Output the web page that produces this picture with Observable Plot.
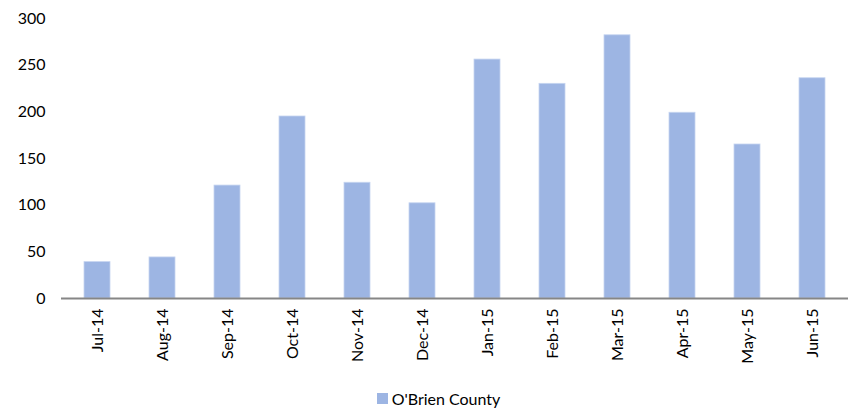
<!DOCTYPE html>
<html>
<head>
<meta charset="utf-8">
<script src="https://cdn.jsdelivr.net/npm/d3@7"></script>
<script src="https://cdn.jsdelivr.net/npm/@observablehq/plot@0.6"></script>
<style>
  html, body { margin: 0; padding: 0; background: #fff; }
  body { width: 853px; height: 411px; overflow: hidden; font-family: Lato, "Open Sans", sans-serif; }
  #legend { display: flex; align-items: center; justify-content: center; gap: 4px; font-size: 16px; color: #000; margin-top: 9px; padding-left: 24px; }
  #legend .sw { width: 11px; height: 11px; background: #9db5e3; display: inline-block; }
</style>
</head>
<body>
<div id="chart"></div>
<div id="legend"><span class="sw"></span><span>O'Brien County</span></div>
<script>
const months = ["Jul-14","Aug-14","Sep-14","Oct-14","Nov-14","Dec-14","Jan-15","Feb-15","Mar-15","Apr-15","May-15","Jun-15"];
const values = [39, 44, 121, 195, 124, 102, 256, 230, 282, 199, 165, 236];
const yTicks = [0, 50, 100, 150, 200, 250, 300];
const seriesName = "O'Brien County";

const data = months.map((m, i) => ({month: m, value: values[i], series: seriesName}));

const chart = Plot.plot({
  width: 853,
  height: 380,
  marginLeft: 61,
  marginRight: 5,
  marginTop: 18,
  marginBottom: 82,
  style: {fontFamily: "Lato, 'Open Sans', sans-serif", fontSize: "16px", color: "#000", background: "#fff"},
  x: {domain: months, paddingInner: 0.6, paddingOuter: 0.3, label: null, tickSize: 0, tickPadding: 10, tickRotate: -90},
  y: {domain: [0, 300], ticks: yTicks, label: null, tickSize: 0, tickPadding: 16},
  marks: [
    Plot.barY(data, {x: "month", y: "value", fill: "#9db5e3", stroke: "#c6d5f0", strokeWidth: 0.8}),
    Plot.ruleY([0], {stroke: "#868686", strokeWidth: 2})
  ]
});
document.getElementById("chart").appendChild(chart);
</script>
</body>
</html>
